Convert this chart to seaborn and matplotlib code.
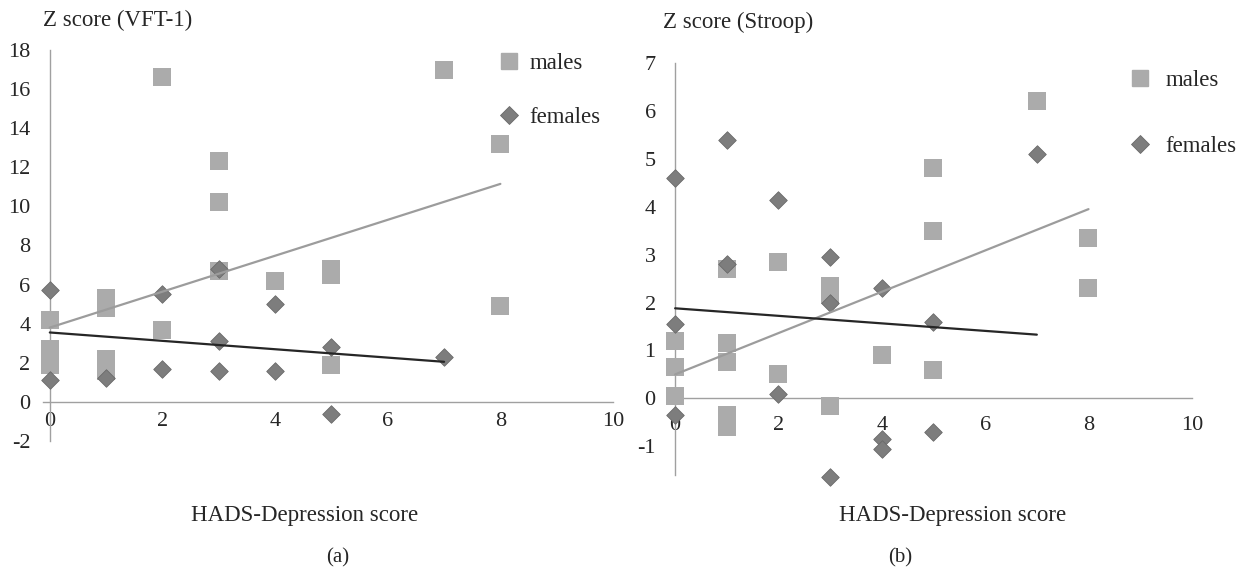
import numpy as np
import pandas as pd
import matplotlib
matplotlib.use('Agg')
import matplotlib.pyplot as plt
from matplotlib.lines import Line2D
import seaborn as sns

# ── data ─────────────────────────────────────────────────
# (a) VFT-1
vft_male_x = [0, 0, 0, 0, 1, 1, 1, 1, 1, 2, 2, 3, 3, 3, 4, 5, 5, 5, 7, 8, 8]
vft_male_y = [4.2, 2.7, 2.3, 1.9, 5.3, 4.8, 2.2, 1.9, 1.6, 16.6, 3.7, 12.3, 10.2, 6.7,
              6.2, 6.8, 6.5, 1.9, 17.0, 13.2, 4.9]
vft_female_x = [0, 0, 1, 2, 2, 3, 3, 3, 4, 4, 5, 5, 7]
vft_female_y = [5.7, 1.1, 1.2, 5.5, 1.7, 6.8, 3.1, 1.6, 5.0, 1.6, 2.8, -0.6, 2.3]
vft_male_fit_x = [0, 8]
vft_male_fit_y = [3.8, 11.15]
vft_female_fit_x = [0, 7]
vft_female_fit_y = [3.55, 2.05]

# (b) Stroop
stroop_male_x = [0, 0, 0, 1, 1, 1, 1, 1, 2, 2, 3, 3, 3, 4, 5, 5, 5, 7, 8, 8]
stroop_male_y = [1.2, 0.65, 0.05, 2.7, 1.15, 0.75, -0.35, -0.6, 2.85, 0.5, 2.35, 2.15,
                 -0.15, 0.9, 4.8, 3.5, 0.6, 6.2, 3.35, 2.3]
stroop_female_x = [0, 0, 0, 1, 1, 2, 2, 3, 3, 3, 4, 4, 4, 5, 5, 7]
stroop_female_y = [4.6, 1.55, -0.35, 5.4, 2.8, 4.15, 0.1, 2.95, 2.0, -1.65, 2.3, -0.85,
                   -1.05, 1.6, -0.7, 5.1]
stroop_male_fit_x = [0, 8]
stroop_male_fit_y = [0.5, 3.95]
stroop_female_fit_x = [0, 7]
stroop_female_fit_y = [1.88, 1.33]

x_ticks = [0, 2, 4, 6, 8, 10]
vft_y_ticks = list(range(-2, 19, 2))
stroop_y_ticks = list(range(-1, 8))

# ── style ────────────────────────────────────────────────
sns.set_style('white')
plt.rcParams['font.family'] = ['Liberation Serif', 'DejaVu Serif']
plt.rcParams['font.size'] = 16
plt.rcParams['axes.unicode_minus'] = False

SQ = '#ababab'
DI = '#7d7d7d'
MLINE = '#9c9c9c'
FLINE = '#262626'
AXC = '#a0a0a0'
FS = 16.5

fig = plt.figure(figsize=(12.48, 5.73), dpi=100)
ax1 = fig.add_axes([0.0345, 0.2304, 0.4567, 0.6824])
ax2 = fig.add_axes([0.536, 0.171, 0.419, 0.719])


def draw_panel(ax, mx, my, fx, fy, mfx, mfy, ffx, ffy, ylim, yticks, xpad):
    males = pd.DataFrame({'x': mx, 'y': my})
    females = pd.DataFrame({'x': fx, 'y': fy})
    sns.scatterplot(data=males, x='x', y='y', marker='s', s=150, color=SQ,
                    edgecolor=SQ, linewidth=0, ax=ax, clip_on=False, zorder=3)
    sns.scatterplot(data=females, x='x', y='y', marker='D', s=80, color=DI,
                    edgecolor='#6a6a6a', linewidth=0.6, ax=ax, clip_on=False, zorder=4)
    sns.lineplot(x=mfx, y=mfy, color=MLINE, lw=1.6, ax=ax, zorder=5)
    sns.lineplot(x=ffx, y=ffy, color=FLINE, lw=1.6, ax=ax, zorder=5)

    ax.set_xlim(-0.12, 10)
    ax.set_ylim(*ylim)
    ax.set_xticks(x_ticks)
    ax.set_yticks(yticks)
    ax.set_xlabel('')
    ax.set_ylabel('')
    for s in ['top', 'right']:
        ax.spines[s].set_visible(False)
    ax.spines['left'].set_position(('data', 0))
    ax.spines['bottom'].set_position(('data', 0))
    for s in ['left', 'bottom']:
        ax.spines[s].set_color(AXC)
        ax.spines[s].set_linewidth(1.0)
    ax.tick_params(axis='x', direction='out', length=4, color=AXC, pad=xpad, labelsize=16)
    ax.tick_params(axis='y', direction='out', length=4, color=AXC, pad=10, labelsize=16)
    ax.grid(False)


draw_panel(ax1, vft_male_x, vft_male_y, vft_female_x, vft_female_y,
           vft_male_fit_x, vft_male_fit_y, vft_female_fit_x, vft_female_fit_y,
           (-2, 18), vft_y_ticks, 3)
draw_panel(ax2, stroop_male_x, stroop_male_y, stroop_female_x, stroop_female_y,
           stroop_male_fit_x, stroop_male_fit_y, stroop_female_fit_x, stroop_female_fit_y,
           (-1.6, 7), stroop_y_ticks, 9)

# legends
handles = [Line2D([], [], ls='', marker='s', ms=12, color=SQ, mec=SQ),
           Line2D([], [], ls='', marker='D', ms=9, color=DI, mec='#6a6a6a', mew=0.6)]
labels = ['males', 'females']
ax1.legend(handles, labels, loc='upper left', bbox_to_anchor=(486 / 1248, 1 - 44 / 573),
           bbox_transform=fig.transFigure, frameon=False, labelspacing=1.45,
           handletextpad=0.3, handlelength=1.2, fontsize=FS, borderaxespad=0)
ax2.legend(handles, labels, loc='upper left', bbox_to_anchor=(1117 / 1248, 1 - 61 / 573),
           bbox_transform=fig.transFigure, frameon=False, labelspacing=1.95,
           handletextpad=0.5, handlelength=1.2, fontsize=FS, borderaxespad=0)

# titles and captions
fig.text(43 / 1248, 1 - 20 / 573, 'Z score (VFT-1)', ha='left', va='center', fontsize=FS)
fig.text(663 / 1248, 1 - 22 / 573, 'Z score (Stroop)', ha='left', va='center', fontsize=FS)
fig.text(305 / 1248, 1 - 515 / 573, 'HADS-Depression score', ha='center', va='center', fontsize=FS)
fig.text(953 / 1248, 1 - 515 / 573, 'HADS-Depression score', ha='center', va='center', fontsize=FS)
fig.text(338 / 1248, 1 - 558 / 573, '(a)', ha='center', va='center', fontsize=15)
fig.text(900 / 1248, 1 - 558 / 573, '(b)', ha='center', va='center', fontsize=15)

fig.savefig('out.png', dpi=100)
